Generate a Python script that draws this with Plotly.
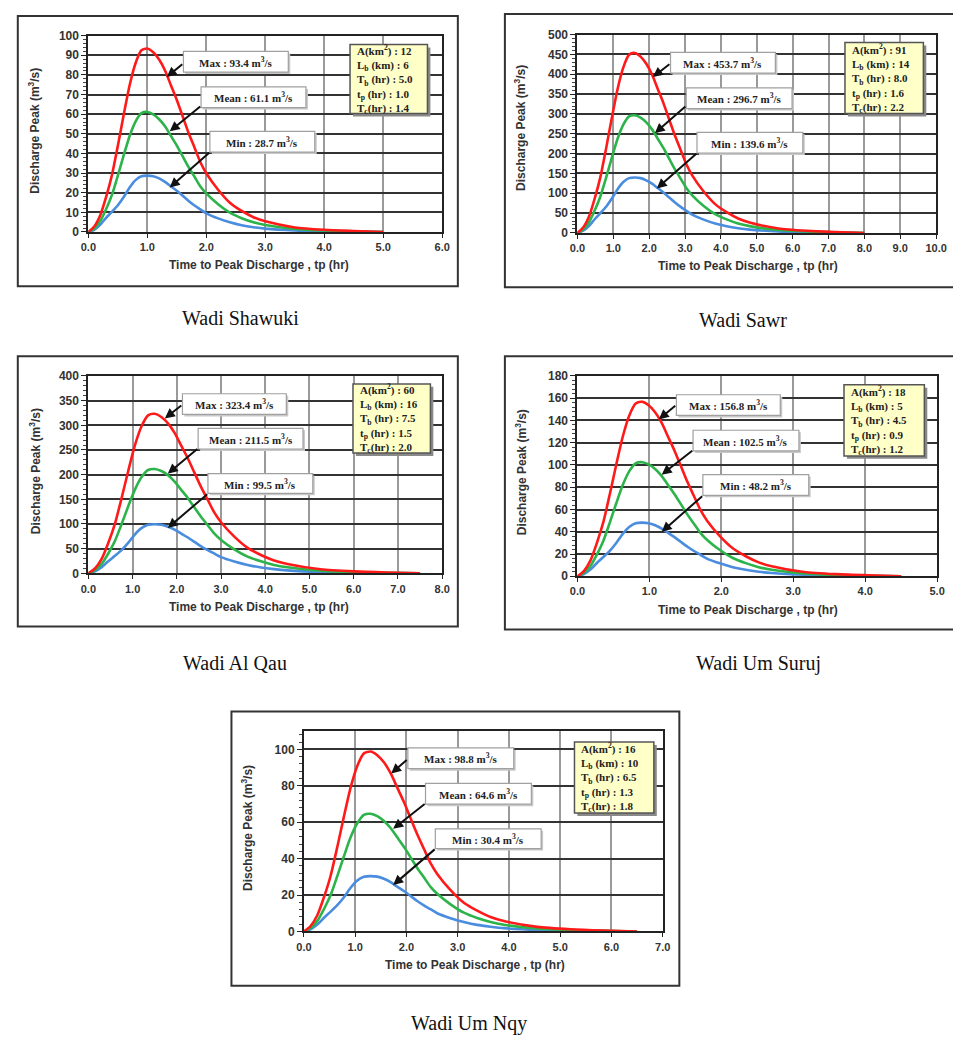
import plotly.graph_objects as go

W, H = 953, 1045

# ---------------- DATA ----------------
names = ["Wadi Shawuki", "Wadi Sawr", "Wadi Al Qau", "Wadi Um Suruj", "Wadi Um Nqy"]

# Wadi Shawuki
p1_t = [0, 0.1, 0.2, 0.3, 0.4, 0.5, 0.6, 0.7, 0.8, 0.9, 1.0, 1.1, 1.2, 1.3, 1.4, 1.5, 1.6, 1.7, 1.8, 1.9, 2.0,
        2.2, 2.4, 2.6, 2.8, 3.0, 3.5, 4.0, 4.5, 5.0]
p1_max = [0, 2.8, 8.4, 17.7, 29.0, 43.9, 59.8, 74.7, 85.9, 92.5, 93.4, 91.5, 87.8, 82.2, 74.7, 67.2, 58.8, 50.4,
          43.0, 35.5, 29.9, 21.5, 14.9, 10.7, 7.5, 5.4, 2.3, 1.1, 0.5, 0]
p1_mean = [0, 1.8, 5.5, 11.6, 18.9, 28.7, 39.1, 48.9, 56.2, 60.5, 61.1, 59.9, 57.4, 53.8, 48.9, 44.0, 38.5, 33.0,
           28.1, 23.2, 19.6, 14.1, 9.8, 7.0, 4.9, 3.5, 1.5, 0.7, 0.3, 0]
p1_min = [0, 1.1, 3.6, 7.2, 10.3, 13.6, 17.8, 22.7, 26.4, 28.4, 28.7, 28.4, 27.3, 25.5, 23.2, 21.0, 18.4, 15.8,
          13.5, 11.5, 9.5, 6.9, 4.9, 3.4, 2.4, 1.7, 0.8, 0.4, 0.2, 0]

# Wadi Sawr
p2_t = [0, 0.16, 0.32, 0.48, 0.64, 0.8, 0.96, 1.12, 1.28, 1.44, 1.6, 1.76, 1.92, 2.08, 2.24, 2.4, 2.56, 2.72, 2.88,
        3.04, 3.2, 3.52, 3.84, 4.16, 4.48, 4.8, 5.6, 6.4, 7.2, 8.0]
p2_max = [0, 13.6, 40.8, 86.2, 140.6, 213.2, 290.4, 363.0, 417.4, 449.2, 453.7, 444.6, 426.5, 399.3, 363.0, 326.7,
          285.8, 245.0, 208.7, 172.4, 145.2, 104.4, 72.6, 52.2, 36.3, 26.3, 11.3, 5.4, 2.3, 0]
p2_mean = [0, 8.9, 26.7, 56.4, 92.0, 139.4, 189.9, 237.4, 273.0, 293.7, 296.7, 290.8, 278.9, 261.1, 237.4, 213.6,
           186.9, 160.2, 136.5, 112.7, 94.9, 68.2, 47.5, 34.1, 23.7, 17.2, 7.4, 3.6, 1.5, 0]
p2_min = [0, 5.6, 17.5, 34.5, 50.0, 66.0, 86.6, 110.3, 128.4, 138.2, 139.6, 138.2, 132.6, 124.2, 113.1, 101.9, 89.3,
          76.8, 65.6, 55.8, 46.1, 33.5, 23.7, 16.8, 11.9, 8.4, 3.8, 1.8, 0.8, 0]

# Wadi Al Qau
p3_t = [0, 0.15, 0.3, 0.45, 0.6, 0.75, 0.9, 1.05, 1.2, 1.35, 1.5, 1.65, 1.8, 1.95, 2.1, 2.25, 2.4, 2.55, 2.7, 2.85,
        3.0, 3.3, 3.6, 3.9, 4.2, 4.5, 5.25, 6.0, 6.75, 7.5]
p3_max = [0, 9.7, 29.1, 61.4, 100.3, 152.0, 207.0, 258.7, 297.5, 320.2, 323.4, 316.9, 304.0, 284.6, 258.7, 232.8,
          203.7, 174.6, 148.8, 122.9, 103.5, 74.4, 51.7, 37.2, 25.9, 18.8, 8.1, 3.9, 1.6, 0]
p3_mean = [0, 6.3, 19.0, 40.2, 65.6, 99.4, 135.4, 169.2, 194.6, 209.4, 211.5, 207.3, 198.8, 186.1, 169.2, 152.3,
           133.2, 114.2, 97.3, 80.4, 67.7, 48.6, 33.8, 24.3, 16.9, 12.3, 5.3, 2.5, 1.1, 0]
p3_min = [0, 4.0, 12.5, 24.5, 35.5, 47.0, 61.7, 78.6, 91.5, 98.5, 99.5, 98.5, 94.5, 88.6, 80.6, 72.6, 63.7, 54.7,
          46.8, 39.8, 32.8, 23.9, 16.9, 11.9, 8.5, 6.0, 2.7, 1.3, 0.6, 0]

# Wadi Um Suruj
p4_t = [0, 0.09, 0.18, 0.27, 0.36, 0.45, 0.54, 0.63, 0.72, 0.81, 0.9, 0.99, 1.08, 1.17, 1.26, 1.35, 1.44, 1.53,
        1.62, 1.71, 1.8, 1.98, 2.16, 2.34, 2.52, 2.7, 3.15, 3.6, 4.05, 4.5]
p4_max = [0, 4.7, 14.1, 29.8, 48.6, 73.7, 100.4, 125.4, 144.3, 155.2, 156.8, 153.7, 147.4, 138.0, 125.4, 112.9,
          98.8, 84.7, 72.1, 59.6, 50.2, 36.1, 25.1, 18.0, 12.5, 9.1, 3.9, 1.9, 0.8, 0]
p4_mean = [0, 3.1, 9.2, 19.5, 31.8, 48.2, 65.6, 82.0, 94.3, 101.5, 102.5, 100.5, 96.4, 90.2, 82.0, 73.8, 64.6, 55.4,
           47.2, 39.0, 32.8, 23.6, 16.4, 11.8, 8.2, 5.9, 2.6, 1.2, 0.5, 0]
p4_min = [0, 1.9, 6.0, 11.9, 17.3, 22.8, 29.9, 38.1, 44.3, 47.7, 48.2, 47.7, 45.8, 42.9, 39.0, 35.2, 30.8, 26.5,
          22.7, 19.3, 15.9, 11.6, 8.2, 5.8, 4.1, 2.9, 1.3, 0.6, 0.3, 0]

# Wadi Um Nqy
p5_t = [0, 0.13, 0.26, 0.39, 0.52, 0.65, 0.78, 0.91, 1.04, 1.17, 1.3, 1.43, 1.56, 1.69, 1.82, 1.95, 2.08, 2.21,
        2.34, 2.47, 2.6, 2.86, 3.12, 3.38, 3.64, 3.9, 4.55, 5.2, 5.85, 6.5]
p5_max = [0, 3.0, 8.9, 18.8, 30.6, 46.4, 63.2, 79.0, 90.9, 97.8, 98.8, 96.8, 92.9, 86.9, 79.0, 71.1, 62.2, 53.4,
          45.4, 37.5, 31.6, 22.7, 15.8, 11.4, 7.9, 5.7, 2.5, 1.2, 0.5, 0]
p5_mean = [0, 1.9, 5.8, 12.3, 20.0, 30.4, 41.3, 51.7, 59.4, 64.0, 64.6, 63.3, 60.7, 56.8, 51.7, 46.5, 40.7, 34.9,
           29.7, 24.5, 20.7, 14.9, 10.3, 7.4, 5.2, 3.7, 1.6, 0.8, 0.3, 0]
p5_min = [0, 1.2, 3.8, 7.5, 10.9, 14.4, 18.8, 24.0, 28.0, 30.1, 30.4, 30.1, 28.9, 27.1, 24.6, 22.2, 19.5, 16.7,
          14.3, 12.2, 10.0, 7.3, 5.2, 3.6, 2.6, 1.8, 0.8, 0.4, 0.2, 0]

# Basin parameters: A (km2), Lb (km), Tb (hr), tp (hr), Tc (hr)
area = ["12", "91", "60", "18", "16"]
lb = ["6", "14", "16", "5", "10"]
tb = ["5.0", "8.0", "7.5", "4.5", "6.5"]
tp = ["1.0", "1.6", "1.5", "0.9", "1.3"]
tc = ["1.4", "2.2", "2.0", "1.2", "1.8"]

x_max = [6, 10, 8, 5, 7]
y_max = [100, 500, 400, 180, 110]
y_step = [10, 50, 50, 20, 20]

times = [p1_t, p2_t, p3_t, p4_t, p5_t]
maxs = [p1_max, p2_max, p3_max, p4_max, p5_max]
means = [p1_mean, p2_mean, p3_mean, p4_mean, p5_mean]
mins = [p1_min, p2_min, p3_min, p4_min, p5_min]

# ---------------- LAYOUT (pixel positions) ----------------
plot_px = [(82, 443, 29, 228), (581, 947, 28, 229), (82, 443, 374, 574), (581, 948, 374, 577), (302, 668, 734, 937)]
frame_px = [(10, 9, 459, 283), (507, 7, 980, 284), (10, 354, 459, 628), (507, 354, 980, 631), (228, 714, 685, 992)]
caption_px = [(237, 315), (750, 317), (232, 665), (766, 665), (470, 1030)]
xtitle_px = [(256, 262), (755, 263), (256, 608), (755, 611), (476, 971)]
ytitle_px = [(27, 125), (523, 123), (27, 470), (523, 472), (244, 832)]
box_px = [
    [(179, 45, 286, 66), (197, 81, 304, 102), (206, 126, 313, 147)],
    [(676, 46, 783, 67), (692, 82, 800, 103), (703, 127, 811, 148)],
    [(178, 392, 284, 413), (194, 427, 301, 448), (204, 473, 311, 493)],
    [(682, 393, 788, 414), (699, 429, 807, 450), (709, 474, 817, 495)],
    [(408, 751, 516, 772), (426, 787, 534, 808), (436, 833, 544, 853)],
]
arrow_px = [
    [((179, 57), (162, 71)), ((197, 100), (165, 126)), ((206, 147), (165, 183))],
    [((676, 57), (658, 71)), ((692, 100), (660, 128)), ((703, 148), (662, 184))],
    [((178, 403), (160, 417)), ((194, 447), (163, 473)), ((204, 493), (163, 528))],
    [((682, 403), (664, 418)), ((699, 449), (667, 474)), ((709, 495), (667, 532))],
    [((408, 762), (391, 777)), ((426, 807), (393, 833)), ((436, 853), (393, 890))],
]
info_px = [(349, 38, 428, 108), (854, 36, 934, 108), (352, 382, 431, 452), (853, 383, 935, 455), (578, 745, 659, 817)]


def px(x):
    return x / W


def py(y):
    return 1 - y / H


RED, GREEN, BLUE = "#ff1a1a", "#2cb34a", "#4a8ddf"
SANS = "Liberation Sans, Arial, sans-serif"
NARROW = "Liberation Sans Narrow, Arial Narrow, Liberation Sans, Arial, sans-serif"
SERIF = "Liberation Serif, Times New Roman, serif"

fig = go.Figure()
layout = dict(width=W, height=H, margin=dict(l=0, r=0, t=0, b=0), paper_bgcolor="white",
              plot_bgcolor="white", showlegend=False)
shapes = []
annotations = []

for i in range(5):
    sfx = "" if i == 0 else str(i + 1)
    x0, x1, yt, yb = plot_px[i]
    for ys, col in ((mins[i], BLUE), (means[i], GREEN), (maxs[i], RED)):
        fig.add_trace(go.Scatter(x=times[i], y=ys, xaxis="x" + sfx, yaxis="y" + sfx, mode="lines",
                                 line=dict(color=col, width=2.6, shape="spline", smoothing=0.7),
                                 hoverinfo="skip", showlegend=False))
    layout["xaxis" + sfx] = dict(
        domain=[px(x0), px(x1)], anchor="y" + sfx, range=[0, x_max[i]], dtick=1, tick0=0,
        tickformat=".1f", showgrid=True, gridcolor="#9a9a9a", gridwidth=1.6, zeroline=False,
        showline=True, linecolor="#222", linewidth=2, mirror=True, ticks="outside", ticklen=4,
        tickcolor="#222", tickfont=dict(family=SANS, size=11, color="#333", weight="bold"), fixedrange=True)
    layout["yaxis" + sfx] = dict(
        domain=[py(yb), py(yt)], anchor="x" + sfx, range=[0, y_max[i]], dtick=y_step[i], tick0=0,
        showgrid=True, gridcolor="#333", gridwidth=1.6, zeroline=False,
        showline=True, linecolor="#222", linewidth=2, mirror=True, ticks="outside", ticklen=5,
        tickcolor="#222", tickfont=dict(family=SANS, size=12, color="#333", weight="bold"),
        minor=dict(ticks="outside", ticklen=3, dtick=y_step[i] / 5, tickcolor="#444", showgrid=False),
        fixedrange=True)

    # outer frame
    fx0, fy0, fx1, fy1 = frame_px[i]
    shapes.append(dict(type="rect", xref="paper", yref="paper", x0=px(fx0), x1=px(fx1), y0=py(fy1), y1=py(fy0),
                       line=dict(color="#333", width=2), fillcolor="rgba(0,0,0,0)", layer="below"))

    # axis titles
    annotations.append(dict(xref="paper", yref="paper", x=px(xtitle_px[i][0]), y=py(xtitle_px[i][1]),
                            text="Time to Peak Discharge , tp (hr)", showarrow=False,
                            font=dict(family=NARROW, size=12, color="#333", weight="bold"),
                            xanchor="center", yanchor="middle"))
    annotations.append(dict(xref="paper", yref="paper", x=px(ytitle_px[i][0]), y=py(ytitle_px[i][1]),
                            text="Discharge Peak (m<sup>3</sup>/s)", showarrow=False, textangle=-90,
                            font=dict(family=NARROW, size=12, color="#333", weight="bold"),
                            xanchor="center", yanchor="middle"))

    # caption
    annotations.append(dict(xref="paper", yref="paper", x=px(caption_px[i][0]), y=py(caption_px[i][1]),
                            text=names[i], showarrow=False, font=dict(family=SERIF, size=20, color="#111"),
                            xanchor="center", yanchor="middle"))

    # label boxes + arrows
    labels = ["Max : %.1f m<sup>3</sup>/s" % max(maxs[i]),
              "Mean : %.1f m<sup>3</sup>/s" % max(means[i]),
              "Min : %.1f m<sup>3</sup>/s" % max(mins[i])]
    for (bx0, by0, bx1, by1), lab, ((tx, ty), (hx, hy)) in zip(box_px[i], labels, arrow_px[i]):
        shapes.append(dict(type="rect", xref="paper", yref="paper", x0=px(bx0 + 2), x1=px(bx1 + 2),
                           y0=py(by1 + 2), y1=py(by0 + 2), line=dict(width=0), fillcolor="#c8c8c8", layer="above"))
        shapes.append(dict(type="rect", xref="paper", yref="paper", x0=px(bx0), x1=px(bx1),
                           y0=py(by1), y1=py(by0), line=dict(color="#a0a0a0", width=1.2), fillcolor="white",
                           layer="above"))
        annotations.append(dict(xref="paper", yref="paper", x=px((bx0 + bx1) / 2), y=py((by0 + by1) / 2),
                                text=lab, showarrow=False, xanchor="center", yanchor="middle",
                                font=dict(family=SERIF, size=11, color="#222", weight="bold")))
        annotations.append(dict(xref="paper", yref="paper", x=px(hx), y=py(hy), ax=tx - hx, ay=ty - hy,
                                text="", showarrow=True, arrowhead=2, arrowsize=1, arrowwidth=2,
                                arrowcolor="#111", standoff=0, startstandoff=0))

    # info box
    ix0, iy0, ix1, iy1 = info_px[i]
    shapes.append(dict(type="rect", xref="paper", yref="paper", x0=px(ix0 + 3), x1=px(ix1 + 3),
                       y0=py(iy1 + 3), y1=py(iy0 + 3), line=dict(width=0), fillcolor="#8a8a8a", layer="above"))
    shapes.append(dict(type="rect", xref="paper", yref="paper", x0=px(ix0), x1=px(ix1),
                       y0=py(iy1), y1=py(iy0), line=dict(color="#555", width=1.5), fillcolor="#ffffc8",
                       layer="above"))
    info_text = ("A(km<sup>2</sup>) : %s<br>L<sub>b</sub> (km) : %s<br>T<sub>b</sub> (hr) : %s<br>"
                 "t<sub>p</sub> (hr) : %s<br>T<sub>c</sub>(hr) : %s") % (area[i], lb[i], tb[i], tp[i], tc[i])
    annotations.append(dict(xref="paper", yref="paper", x=px(ix0 + 5), y=py((iy0 + iy1) / 2),
                            text=info_text, showarrow=False, xanchor="left", yanchor="middle", align="left",
                            font=dict(family=SERIF, size=11, color="#222", weight="bold")))

layout["shapes"] = shapes
layout["annotations"] = annotations
fig.update_layout(**layout)
fig.write_html("out.html", config={"displayModeBar": False},
               post_script="document.body.style.margin='0';document.body.style.overflow='hidden';")
